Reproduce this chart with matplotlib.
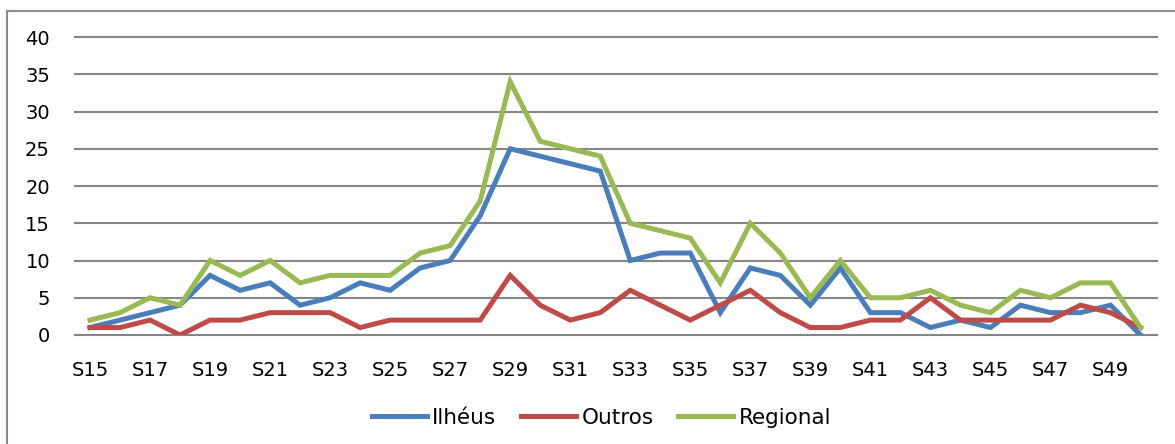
import matplotlib.pyplot as plt
from matplotlib.patches import Rectangle

# semanas epidemiologicas
weeks = ["S%d" % w for w in range(15, 51)]

ilheus = [1, 2, 3, 4, 8, 6, 7, 4, 5, 7, 6, 9, 10, 16, 25, 24, 23, 22, 10, 11,
          11, 3, 9, 8, 4, 9, 3, 3, 1, 2, 1, 4, 3, 3, 4, 0]
outros = [1, 1, 2, 0, 2, 2, 3, 3, 3, 1, 2, 2, 2, 2, 8, 4, 2, 3, 6, 4,
          2, 4, 6, 3, 1, 1, 2, 2, 5, 2, 2, 2, 2, 4, 3, 1]
regional = [2, 3, 5, 4, 10, 8, 10, 7, 8, 8, 8, 11, 12, 18, 34, 26, 25, 24, 15, 14,
            13, 7, 15, 11, 5, 10, 5, 5, 6, 4, 3, 6, 5, 7, 7, 1]

series = [("Ilhéus", ilheus, "#4a7ebb"),
          ("Outros", outros, "#be4b48"),
          ("Regional", regional, "#98b954")]

fig = plt.figure(figsize=(11.75, 4.44), dpi=100)
ax = fig.add_axes([75 / 1175, 1 - 335 / 444, 1082 / 1175, 298 / 444])

x = range(len(weeks))
for name, vals, col in series:
    ax.plot(x, vals, color=col, lw=3.6, label=name, solid_joinstyle="miter")

ax.set_xlim(-0.5, len(weeks) - 0.45)
ax.set_ylim(0, 40)
ax.set_yticks(range(0, 41, 5))
ax.set_xticks(range(0, len(weeks), 2))
ax.set_xticklabels(weeks[::2])
ax.grid(axis="y", color="#868686", lw=1.5)
for gl in ax.get_ygridlines():
    gl.set_clip_on(False)
ax.set_axisbelow(True)
for s in ax.spines.values():
    s.set_visible(False)
ax.tick_params(axis="y", length=0, pad=18, labelsize=14)
ax.tick_params(axis="x", length=0, pad=19, labelsize=14)

fig.legend(loc="center", bbox_to_anchor=(0.512, 1 - 418 / 444), ncol=3,
           frameon=False, fontsize=15.5, handlelength=2.55, columnspacing=1.15,
           handletextpad=0.25)

# borda do grafico
fig.patches.append(Rectangle((7 / 1175, -0.1), 1.2, 1 - 11.5 / 444 + 0.1,
                             transform=fig.transFigure, fill=False,
                             edgecolor="#8c8c8c", lw=1.5))

fig.savefig("out.png", dpi=100)
